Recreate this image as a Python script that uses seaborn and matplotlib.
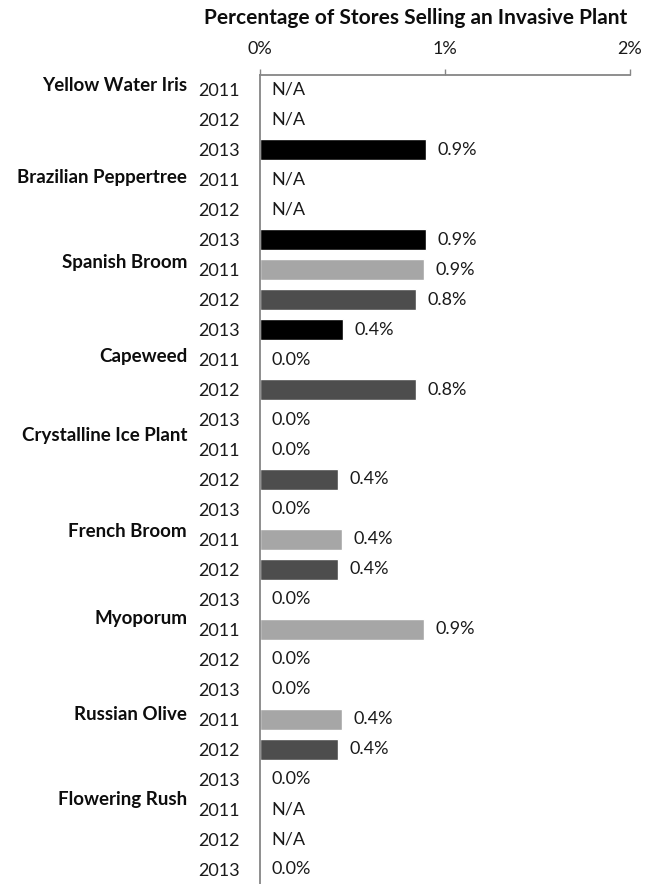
import matplotlib
matplotlib.use("Agg")
import matplotlib.pyplot as plt
import seaborn as sns
import pandas as pd
import numpy as np
from matplotlib import transforms

# Share of surveyed stores selling each invasive plant, by survey year (percent)
plants = [
    "Yellow Water Iris",
    "Brazilian Peppertree",
    "Spanish Broom",
    "Capeweed",
    "Crystalline Ice Plant",
    "French Broom",
    "Myoporum",
    "Russian Olive",
    "Flowering Rush",
]
years = ["2011", "2012", "2013"]
pct_2011 = [np.nan, np.nan, 0.885, 0.0, 0.0, 0.442, 0.885, 0.442, np.nan]
pct_2012 = [np.nan, np.nan, 0.844, 0.844, 0.422, 0.422, 0.0, 0.422, np.nan]
pct_2013 = [0.897, 0.897, 0.448, 0.0, 0.0, 0.0, 0.0, 0.0, 0.0]
x_ticks = [0, 1, 2]
x_tick_labels = ["0%", "1%", "2%"]
title = "Percentage of Stores Selling an Invasive Plant"

year_colors = {"2011": "#a6a6a6", "2012": "#4d4d4d", "2013": "#000000"}
# vertical nudge (points) of each plant name relative to its first year row
name_nudge = [3, 1.5, 5, 2, 10, 6, 8, 3.5, 7]

sns.set_style("white")
plt.rcParams["font.family"] = ["Lato", "DejaVu Sans"]

series = {"2011": pct_2011, "2012": pct_2012, "2013": pct_2013}
records = []
for i, plant in enumerate(plants):
    for year in years:
        records.append({"row": f"{i}-{year}", "plant": plant, "year": year,
                        "pct": series[year][i]})
df = pd.DataFrame(records)
row_order = list(df["row"])

fig = plt.figure(figsize=(6.6, 8.84), dpi=100)
ax = fig.add_axes([260 / 660, 0.0, 370 / 660, 1 - 75 / 884])

sns.barplot(data=df, x="pct", y="row", hue="year", order=row_order,
            palette=year_colors, dodge=False, width=0.7, saturation=1,
            legend=False, orient="h", ax=ax)

ax.set_xlim(0, 2)
ax.set_ylim(len(row_order) - 0.5, -0.5)
ax.set_xlabel("")
ax.set_ylabel("")

# value axis on top
ax.xaxis.tick_top()
ax.set_xticks(x_ticks)
ax.set_xticklabels(x_tick_labels, fontsize=13, color="#1a1a1a")
ax.tick_params(axis="x", direction="out", length=4.5, width=1, color="#868686", pad=8.5)

# year labels on the category axis
ax.set_yticks(range(len(row_order)))
ax.set_yticklabels(df["year"], fontsize=13, color="#1a1a1a")
ax.tick_params(axis="y", length=0, pad=14.5)

for side in ["right", "bottom"]:
    ax.spines[side].set_visible(False)
for side in ["top", "left"]:
    ax.spines[side].set_color("#868686")
    ax.spines[side].set_linewidth(1.3)

# data labels
for i, v in enumerate(df["pct"]):
    txt = "N/A" if np.isnan(v) else f"{v:.1f}%"
    xv = 0 if np.isnan(v) else v
    ax.annotate(txt, xy=(xv, i), xytext=(8.5, 0), textcoords="offset points",
                ha="left", va="center", fontsize=13, color="#1a1a1a")

# plant names next to their first year row
blend = transforms.blended_transform_factory(ax.transAxes, ax.transData)
for i, plant in enumerate(plants):
    ax.annotate(plant, xy=(0, i * 3), xycoords=blend, xytext=(-52.5, name_nudge[i]),
                textcoords="offset points", ha="right", va="center",
                fontsize=13.5, fontweight="bold", color="#0d0d0d")

fig.text(416 / 660, 1 - 18 / 884, title, ha="center", va="center",
         fontsize=15, fontweight="bold", color="#0d0d0d")

fig.savefig("out.png", dpi=100)
